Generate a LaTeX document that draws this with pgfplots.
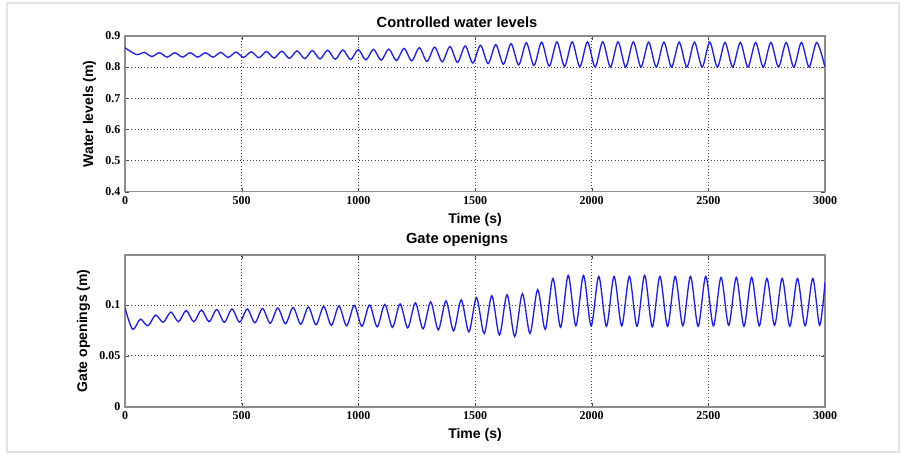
\documentclass[border=0pt]{standalone}
\usepackage{fontspec}
\setmainfont{Liberation Serif}
\newfontfamily\arialfont{Liberation Sans}
\usepackage{pgfplots}
\pgfplotsset{compat=1.18}

\definecolor{mblue}{RGB}{30,30,235}
\definecolor{framegray}{RGB}{228,228,228}
\definecolor{boxgray}{RGB}{140,140,140}

\pgfplotsset{
  mstyle/.style={
    scale only axis,
    width=525pt,
    xmin=0, xmax=3000,
    xtick={0,500,1000,1500,2000,2500,3000},
    xticklabels={0,500,1000,1500,2000,2500,3000},
    grid=major,
    major grid style={black!75, dotted, line width=0.6pt},
    axis line style={boxgray, line width=1.1pt},
    tick align=inside,
    major tick length=3pt,
    tick style={black!70},
    ticklabel style={font=\fontsize{9}{10}\selectfont\bfseries},
    label style={font=\arialfont\fontsize{10.5}{12}\selectfont\bfseries},
    title style={font=\arialfont\fontsize{11}{13}\selectfont\bfseries, xshift=-13.5pt, yshift=-3.5pt},
    xlabel={Time (s)},
  },
  mline/.style={mblue, line width=1pt, smooth, no marks},
}

\begin{document}
\begin{tikzpicture}
\useasboundingbox (0,0) rectangle (676.5pt,342.75pt);
\draw[framegray, line width=1.5pt] (5.25pt,3.75pt) rectangle (674.25pt,340.5pt);

% controlled water levels
\begin{axis}[
  mstyle,
  at={(93.75pt,199pt)}, anchor=south west,
  height=116.8pt,
  ymin=0.4, ymax=0.9,
  ytick={0.4,0.5,0.6,0.7,0.8,0.9},
  yticklabels={0.4,0.5,0.6,0.7,0.8,0.9},
  ylabel={Water levels (m)},
  title={Controlled water levels},
]
\addplot [mline] table {%
0 0.862
49.75 0.840
82.5 0.847
115.25 0.834
148 0.846
180.75 0.832
213.5 0.846
246.25 0.832
279 0.846
311.75 0.832
344.5 0.846
377.25 0.832
410 0.847
442.75 0.831
475.5 0.848
508.25 0.831
541 0.849
573.75 0.830
606.5 0.850
639.25 0.829
672 0.851
704.75 0.828
737.5 0.852
770.25 0.827
803 0.853
835.75 0.826
868.5 0.854
901.25 0.825
934 0.855
966.75 0.824
999.5 0.856
1032.25 0.823
1065 0.857
1097.75 0.822
1130.5 0.858
1163.25 0.821
1196 0.860
1228.75 0.820
1261.5 0.862
1294.25 0.818
1327 0.864
1359.75 0.817
1392.5 0.866
1425.25 0.815
1458 0.868
1490.75 0.813
1523.5 0.870
1556.25 0.811
1589 0.872
1621.75 0.809
1654.5 0.875
1687.25 0.807
1720 0.878
1752.75 0.805
1785.5 0.880
1818.25 0.803
1851 0.881
1883.75 0.802
1916.5 0.881
1949.25 0.801
1982 0.881
2014.75 0.800
2047.5 0.881
2080.25 0.800
2113 0.881
2145.75 0.800
2178.5 0.881
2211.25 0.800
2244 0.880
2276.75 0.800
2309.5 0.880
2342.25 0.800
2375 0.880
2407.75 0.800
2440.5 0.880
2473.25 0.800
2506 0.880
2538.75 0.800
2571.5 0.879
2604.25 0.800
2637 0.879
2669.75 0.800
2702.5 0.879
2735.25 0.800
2768 0.879
2800.75 0.800
2833.5 0.879
2866.25 0.800
2899 0.879
2931.75 0.800
2964.5 0.879
3000 0.800
};
\end{axis}

% gate openings
\begin{axis}[
  mstyle,
  at={(93.75pt,37.65pt)}, anchor=south west,
  height=113.85pt,
  ymin=0, ymax=0.149,
  ytick={0,0.05,0.1},
  yticklabels={0,0.05,0.1},
  ylabel={Gate openings (m)},
  title={Gate openigns},
]
\addplot [mline] table {%
0 0.097
32.75 0.076
65.5 0.086
98.25 0.0795
131 0.090
163.75 0.083
196.5 0.093
229.25 0.0835
262 0.0945
294.75 0.0835
327.5 0.095
360.25 0.0835
393 0.0955
425.75 0.083
458.5 0.096
491.25 0.083
524 0.096
556.75 0.0825
589.5 0.0965
622.25 0.082
655 0.097
687.75 0.0815
720.5 0.0975
753.25 0.081
786 0.098
818.75 0.0805
851.5 0.0985
884.25 0.080
917 0.099
949.75 0.0795
982.5 0.0995
1015.25 0.079
1048 0.100
1080.75 0.0785
1113.5 0.1005
1146.25 0.078
1179 0.101
1211.75 0.0775
1244.5 0.102
1277.25 0.0765
1310 0.103
1342.75 0.0755
1375.5 0.104
1408.25 0.0745
1441 0.105
1473.75 0.0735
1506.5 0.107
1539.25 0.072
1572 0.109
1604.75 0.0705
1637.5 0.110
1670.25 0.069
1703 0.111
1735.75 0.072
1768.5 0.115
1801.25 0.076
1834 0.126
1866.75 0.078
1899.5 0.129
1932.25 0.0795
1965 0.129
1997.75 0.0795
2030.5 0.128
2063.25 0.079
2096 0.128
2128.75 0.0795
2161.5 0.128
2194.25 0.079
2227 0.129
2259.75 0.0785
2292.5 0.128
2325.25 0.079
2358 0.128
2390.75 0.0795
2423.5 0.128
2456.25 0.079
2489 0.128
2521.75 0.0795
2554.5 0.127
2587.25 0.080
2620 0.127
2652.75 0.079
2685.5 0.127
2718.25 0.0795
2751 0.126
2783.75 0.080
2816.5 0.126
2849.25 0.079
2882 0.126
2914.75 0.0795
2947.5 0.126
2977 0.080
3000 0.122
};
\end{axis}
\end{tikzpicture}
\end{document}
